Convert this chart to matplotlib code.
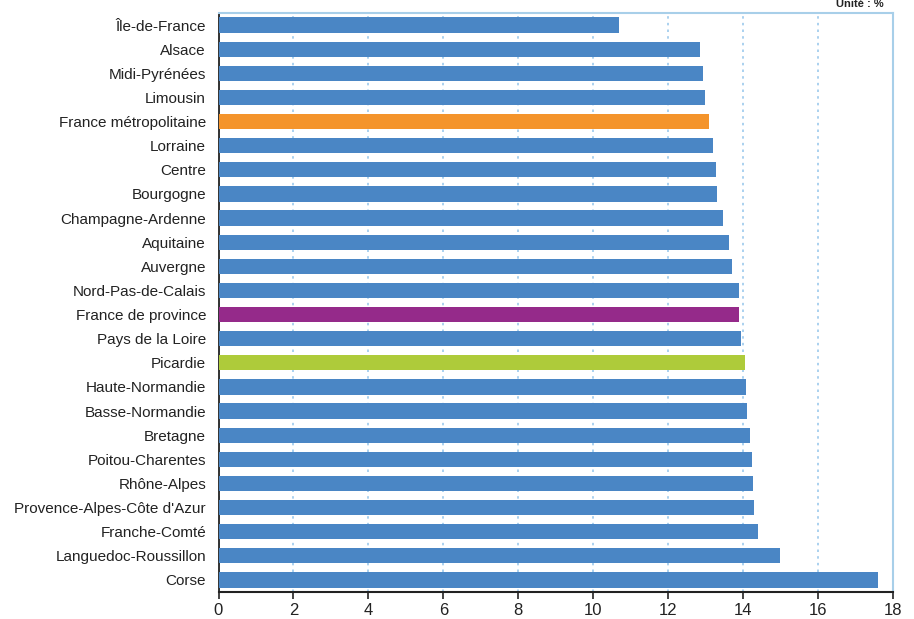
import matplotlib.pyplot as plt
import numpy as np

plt.rcParams['font.family'] = ['Liberation Sans', 'DejaVu Sans']

regions = ["Île-de-France", "Alsace", "Midi-Pyrénées", "Limousin",
           "France métropolitaine", "Lorraine", "Centre", "Bourgogne",
           "Champagne-Ardenne", "Aquitaine", "Auvergne", "Nord-Pas-de-Calais",
           "France de province", "Pays de la Loire", "Picardie",
           "Haute-Normandie", "Basse-Normandie", "Bretagne",
           "Poitou-Charentes", "Rhône-Alpes", "Provence-Alpes-Côte d'Azur",
           "Franche-Comté", "Languedoc-Roussillon", "Corse"]
values = [10.7, 12.86, 12.94, 12.97, 13.1, 13.19, 13.27, 13.3, 13.46, 13.62,
          13.7, 13.88, 13.88, 13.94, 14.04, 14.07, 14.1, 14.18, 14.23, 14.26,
          14.3, 14.39, 14.98, 17.6]

blue = '#4a86c5'
special = {"France métropolitaine": '#f4942b',
           "France de province": '#952a8a',
           "Picardie": '#aecb3a'}
colors = [special.get(r, blue) for r in regions]

fig = plt.figure(figsize=(9.14, 6.19), dpi=100)
ax = fig.add_axes([218.5 / 914, 27 / 619, 674.5 / 914, 579 / 619])

y = np.arange(len(regions))
ax.barh(y, values, height=0.63, color=colors, zorder=3)

ax.set_xlim(0, 18)
ax.set_ylim(len(regions) - 0.5, -0.5)
ax.set_xticks(np.arange(0, 19, 2))
ax.set_yticks(y)
ax.set_yticklabels(regions, fontsize=11, color='#222222')
ax.tick_params(axis='y', length=0, pad=9)
ax.tick_params(axis='x', length=5, width=1.2, color='#222222', labelsize=12,
               labelcolor='#222222', pad=3)

ax.grid(axis='x', color='#9cc9ec', linestyle=(0, (1.5, 2.5)), linewidth=1.2, zorder=0)
ax.grid(axis='y', visible=False)

ax.spines['left'].set_color('#222222')
ax.spines['left'].set_linewidth(1.3)
ax.spines['bottom'].set_color('#222222')
ax.spines['bottom'].set_linewidth(1.5)
ax.spines['top'].set_color('#a8cfe9')
ax.spines['top'].set_linewidth(1.5)
ax.spines['right'].set_color('#a8cfe9')
ax.spines['right'].set_linewidth(1.5)

fig.text(884 / 914, 1 - 4 / 619, "Unité : %", ha='right', va='center',
         fontsize=8, fontweight='bold', color='#222222')

fig.savefig('out.png', dpi=100)
